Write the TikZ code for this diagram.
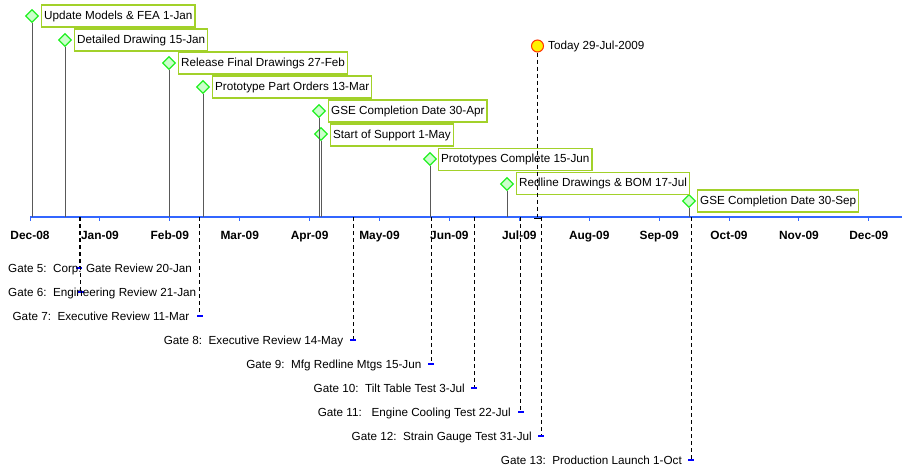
\documentclass[tikz,border=0pt]{standalone}
\usepackage{fontspec}
\setmainfont{Liberation Sans}
\usetikzlibrary{shapes.geometric}

\definecolor{boxgreen}{HTML}{A2D12A}
\definecolor{diagreen}{HTML}{22F022}
\definecolor{diafill}{HTML}{CCFFCC}
\definecolor{axisblue}{HTML}{3366FF}
\definecolor{capblue}{HTML}{0000FF}
\definecolor{todayred}{HTML}{FF3300}

\tikzset{
  milestone/.style={diamond, draw=diagreen, fill=diafill, line width=1.3pt, minimum size=13pt, inner sep=0pt},
  labelbox/.style={draw=boxgreen, line width=1.3pt, fill=white, anchor=west, inner xsep=2.5pt,
    minimum height=22pt, text height=8.6pt, text depth=2.4pt, font=\fontsize{11.7}{14}\selectfont},
  stem/.style={draw=black!65, line width=0.7pt},
  axisline/.style={draw=axisblue, line width=1.8pt},
  axistick/.style={draw=axisblue, line width=1pt},
  month/.style={anchor=base, inner sep=0pt, font=\fontsize{11.9}{14}\selectfont\bfseries},
  gateline/.style={draw=black, line width=0.8pt, dash pattern=on 4pt off 3pt},
  gatecap/.style={fill=capblue, inner sep=0pt, minimum width=6pt, minimum height=1.8pt},
  todaycap/.style={fill=black, inner sep=0pt, minimum width=7pt, minimum height=1pt},
  gatetext/.style={inner sep=0pt, font=\fontsize{11.7}{14}\selectfont},
  today/.style={circle, draw=todayred, fill=yellow, line width=1pt, minimum size=12pt, inner sep=0pt},
}

\begin{document}
\begin{tikzpicture}[x=1pt,y=-1pt]
\useasboundingbox (0,0) rectangle (902,466);

% time axis
\coordinate (ax0) at (30,217);
\coordinate (ax1) at (902,217);
\draw[axisline] (ax0) -- (ax1);

\draw[axistick] (30,217) -- (30,221);
\draw[axistick] (99.9,217) -- (99.9,221);
\draw[axistick] (169.8,217) -- (169.8,221);
\draw[axistick] (239.7,217) -- (239.7,221);
\draw[axistick] (309.6,217) -- (309.6,221);
\draw[axistick] (379.5,217) -- (379.5,221);
\draw[axistick] (449.4,217) -- (449.4,221);
\draw[axistick] (519.3,217) -- (519.3,221);
\draw[axistick] (589.2,217) -- (589.2,221);
\draw[axistick] (659.1,217) -- (659.1,221);
\draw[axistick] (729,217) -- (729,221);
\draw[axistick] (798.9,217) -- (798.9,221);
\draw[axistick] (868.8,217) -- (868.8,221);

\node[month] (dec08) at (30,239.5) {Dec-08};
\node[month] (jan09) at (99.9,239.5) {Jan-09};
\node[month] (feb09) at (169.8,239.5) {Feb-09};
\node[month] (mar09) at (239.7,239.5) {Mar-09};
\node[month] (apr09) at (309.6,239.5) {Apr-09};
\node[month] (may09) at (379.5,239.5) {May-09};
\node[month] (jun09) at (449.4,239.5) {Jun-09};
\node[month] (jul09) at (519.3,239.5) {Jul-09};
\node[month] (aug09) at (589.2,239.5) {Aug-09};
\node[month] (sep09) at (659.1,239.5) {Sep-09};
\node[month] (oct09) at (729,239.5) {Oct-09};
\node[month] (nov09) at (798.9,239.5) {Nov-09};
\node[month] (dec09) at (868.8,239.5) {Dec-09};

% milestones above the axis
\node[milestone] (fea) at (32,16) {};
\node[milestone] (detail) at (65,40) {};
\node[milestone] (release) at (169,63) {};
\node[milestone] (orders) at (203,87) {};
\node[milestone] (gseapr) at (319,111) {};
\node[milestone] (support) at (321,134) {};
\node[milestone] (proto) at (430,159) {};
\node[milestone] (redline) at (507,184) {};
\node[milestone] (gsesep) at (689,201) {};

\draw[stem] (fea.south) -- (fea |- ax0);
\draw[stem] (detail.south) -- (detail |- ax0);
\draw[stem] (release.south) -- (release |- ax0);
\draw[stem] (orders.south) -- (orders |- ax0);
\draw[stem] (gseapr.south) -- (gseapr |- ax0);
\draw[stem] (support.south) -- (support |- ax0);
\draw[stem] (proto.south) -- (proto |- ax0);
\draw[stem] (redline.south) -- (redline |- ax0);
\draw[stem] (gsesep.south) -- (gsesep |- ax0);

\node[labelbox] (feabox) at (41,16) {Update Models \& FEA 1-Jan};
\node[labelbox] (detailbox) at (74,40) {Detailed Drawing 15-Jan};
\node[labelbox] (releasebox) at (178,63) {Release Final Drawings 27-Feb};
\node[labelbox] (ordersbox) at (212,87) {Prototype Part Orders 13-Mar};
\node[labelbox] (gseaprbox) at (328,111) {GSE Completion Date 30-Apr};
\node[labelbox] (supportbox) at (330,135) {Start of Support 1-May};
\node[labelbox] (protobox) at (438,159.5) {Prototypes Complete 15-Jun};
\node[labelbox] (redlinebox) at (516,183.5) {Redline Drawings \& BOM 17-Jul};
\node[labelbox] (gsesepbox) at (697,201) {GSE Completion Date 30-Sep};

% today
\node[today] (today) at (537.5,46) {};
\node[gatetext, anchor=west] (todaytxt) at (548,46) {Today 29-Jul-2009};
\node[todaycap] (todayend) at (537.5,218) {};
\draw[gateline] (today.south) -- (todayend);

% gates below the axis
\node[gatecap] (cap5) at (79,268) {};
\node[gatecap] (cap6) at (80.5,292) {};
\node[gatecap] (cap7) at (199.5,316) {};
\node[gatecap] (cap8) at (353,340) {};
\node[gatecap] (cap9) at (431,364) {};
\node[gatecap] (cap10) at (474,388) {};
\node[gatecap] (cap11) at (520.5,412) {};
\node[gatecap] (cap12) at (541,436) {};
\node[gatecap] (cap13) at (691,460) {};

\draw[gateline] (cap5 |- ax0) -- (cap5);
\draw[gateline] (cap6 |- ax0) -- (cap6);
\draw[gateline] (cap7 |- ax0) -- (cap7);
\draw[gateline] (cap8 |- ax0) -- (cap8);
\draw[gateline] (cap9 |- ax0) -- (cap9);
\draw[gateline] (cap10 |- ax0) -- (cap10);
\draw[gateline] (cap11 |- ax0) -- (cap11);
\draw[gateline] (cap12 |- ax0) -- (cap12);
\draw[gateline] (cap13 |- ax0) -- (cap13);

\node[gatetext, anchor=base west] (gate5) at (8,272.5) {Gate 5:\ \ Corp. Gate Review 20-Jan};
\node[gatetext, anchor=base west] (gate6) at (8,296.5) {Gate 6:\ \ Engineering Review 21-Jan};
\node[gatetext, anchor=base east] (gate7) at (189.5,320.5) {Gate 7:\ \ Executive Review 11-Mar};
\node[gatetext, anchor=base east] (gate8) at (343.5,344.5) {Gate 8:\ \ Executive Review 14-May};
\node[gatetext, anchor=base east] (gate9) at (421.5,368.5) {Gate 9:\ \ Mfg Redline Mtgs 15-Jun};
\node[gatetext, anchor=base east] (gate10) at (465,392.5) {Gate 10:\ \ Tilt Table Test 3-Jul};
\node[gatetext, anchor=base east] (gate11) at (511,416.5) {Gate 11:\ \ \ Engine Cooling Test 22-Jul};
\node[gatetext, anchor=base east] (gate12) at (532,440.5) {Gate 12:\ \ Strain Gauge Test 31-Jul};
\node[gatetext, anchor=base east] (gate13) at (682,464.5) {Gate 13:\ \ Production Launch 1-Oct};

\end{tikzpicture}
\end{document}
